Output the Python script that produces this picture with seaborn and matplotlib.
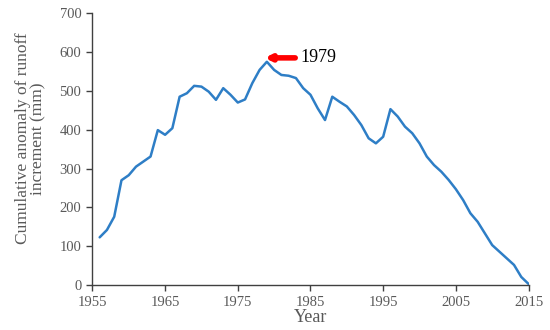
import seaborn as sns
import pandas as pd
import matplotlib.pyplot as plt

years = list(range(1956, 2016))
anomaly = [123, 142, 176, 270, 283, 305, 318, 331, 399, 387,
           404, 485, 494, 513, 511, 498, 477, 507, 490, 470,
           478, 520, 554, 575, 554, 541, 539, 533, 507, 490,
           455, 425, 485, 472, 460, 438, 412, 378, 365, 382,
           453, 434, 408, 391, 365, 331, 309, 292, 271, 247,
           219, 185, 163, 133, 103, 86, 69, 52, 21, 3]
peak_year = 1979
xticks = [1955, 1965, 1975, 1985, 1995, 2005, 2015]
yticks = [0, 100, 200, 300, 400, 500, 600, 700]

df = pd.DataFrame({'Year': years, 'anomaly': anomaly})

sns.set_style('white')
plt.rcParams['font.family'] = ['Liberation Serif', 'DejaVu Serif']
grey = '#595959'

fig = plt.figure(figsize=(5.5, 3.3), dpi=100)
ax = fig.add_axes([0.168, 0.136, 0.793, 0.824])
sns.lineplot(data=df, x='Year', y='anomaly', color='#2E7EC6', linewidth=1.8, ax=ax)

ax.set_xlim(1955, 2015)
ax.set_ylim(0, 700)
ax.set_xticks(xticks)
ax.set_yticks(yticks)
ax.tick_params(axis='both', direction='out', length=4, width=1, color='#404040',
               labelsize=10.5, labelcolor=grey, left=True, bottom=True)
ax.tick_params(axis='x', pad=4)
ax.tick_params(axis='y', pad=4)
for side in ['top', 'right']:
    ax.spines[side].set_visible(False)
for side in ['left', 'bottom']:
    ax.spines[side].set_color('#404040')
    ax.spines[side].set_linewidth(1)

ax.set_xlabel('Year', fontsize=13, color=grey, labelpad=0)
ax.set_ylabel('Cumulative anomaly of runoff\nincrement (mm)', fontsize=12.5,
              color=grey, linespacing=1.0)
ax.yaxis.set_label_coords(-0.105, 0.54)

# red arrow pointing at the peak
peak_val = anomaly[years.index(peak_year)]
ax.annotate('', xy=(peak_year - 0.3, peak_val + 10), xytext=(peak_year + 3.9, peak_val + 10),
            arrowprops=dict(arrowstyle='-|>,head_length=0.3,head_width=0.15',
                            color='#FF0000', lw=4, shrinkA=0, shrinkB=0))
ax.text(peak_year + 4.6, peak_val + 10, str(peak_year), fontsize=13, color='black',
        va='center', ha='left')

fig.savefig('out.png', dpi=100)
